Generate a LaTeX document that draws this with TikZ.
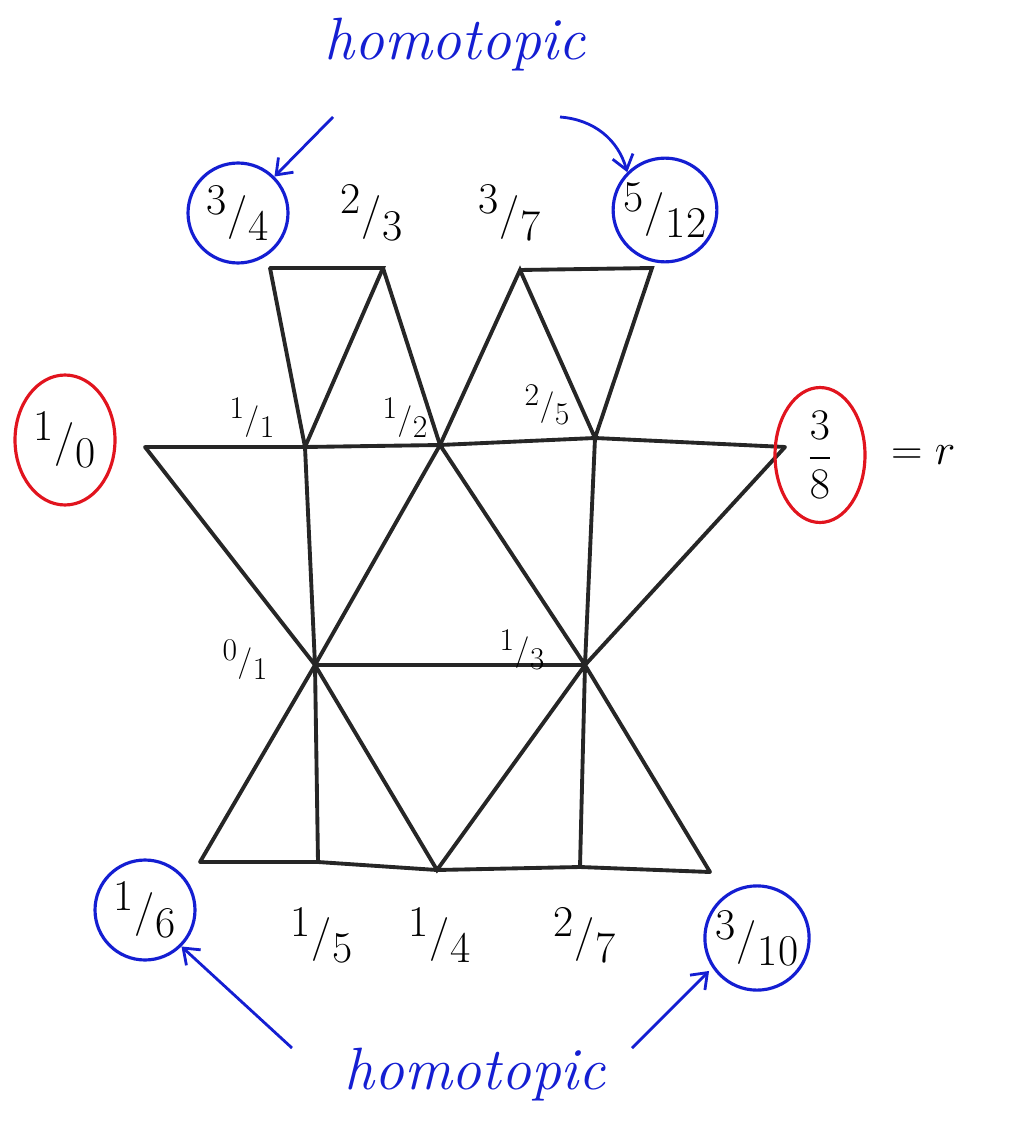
\documentclass[tikz,border=0pt]{standalone}
\usepackage{amsmath}
\usepackage{xcolor}
\usepackage{tikz}
\usetikzlibrary{positioning,arrows.meta,shapes.geometric}

\definecolor{penblue}{RGB}{20,30,210}
\definecolor{penred}{RGB}{225,20,30}
\newcommand{\slfr}[2]{\raisebox{.32em}{#1}\kern.02em/\kern.02em\raisebox{-.28em}{#2}}

\begin{document}
\begin{tikzpicture}[x=0.02cm, y=-0.02cm,
edge/.style={line width=2.2pt, black!85, line cap=round},
lab/.style={font=\fontsize{25}{28}\selectfont, inner sep=1pt},
small/.style={font=\fontsize{18}{20}\selectfont, inner sep=1pt},
ring/.style={lab, draw=penblue, line width=1.8pt, circle, minimum size=2cm},
redring/.style={lab, draw=penred, line width=1.8pt, ellipse},
word/.style={text=penblue, font=\fontsize{34}{38}\selectfont\itshape},
note/.style={-{Straight Barb[length=8pt,width=12pt]}, penblue, line width=1.6pt}
]
\useasboundingbox (0,0) rectangle (1018,1128);

% vertices of the Farey graph piece
\coordinate (a34) at (270,268);
\coordinate (a23) at (383,268);
\coordinate (a37) at (520,270);
\coordinate (a512) at (652,268);
\coordinate (a10) at (145,447);
\coordinate (a11) at (305,447);
\coordinate (a12) at (440,445);
\coordinate (a25) at (595,438);
\coordinate (a38) at (785,447);
\coordinate (a01) at (315,665);
\coordinate (a13) at (585,665);
\coordinate (a16) at (200,862);
\coordinate (a15) at (318,862);
\coordinate (a14) at (437,870);
\coordinate (a27) at (580,867);
\coordinate (a310) at (710,872);

% edges
\draw[edge] (a34) -- (a23) -- (a11) -- (a34);
\draw[edge] (a23) -- (a12);
\draw[edge] (a37) -- (a512) -- (a25) -- (a37) -- (a12);
\draw[edge] (a10) -- (a11) -- (a12) -- (a25) -- (a38);
\draw[edge] (a10) -- (a01) -- (a11);
\draw[edge] (a01) -- (a12) -- (a13) -- (a25);
\draw[edge] (a38) -- (a13) -- (a01);
\draw[edge] (a16) -- (a15) -- (a14) -- (a27) -- (a310);
\draw[edge] (a16) -- (a01) -- (a15);
\draw[edge] (a01) -- (a14) -- (a13) -- (a27);
\draw[edge] (a13) -- (a310);

% labels
\node[ring] (n34) at (238,213) {\slfr{3}{4}};
\node[lab] (n23) at (372,213) {\slfr{2}{3}};
\node[lab] (n37) at (510,213) {\slfr{3}{7}};
\node[ring] (n512) at (665,210) {\slfr{5}{12}};
\node[redring, minimum width=2cm, minimum height=2.6cm] (n10) at (65,440) {\slfr{1}{0}};
\node[small] (n11) at (252,418) {\slfr{1}{1}};
\node[small] (n12) at (405,418) {\slfr{1}{2}};
\node[small] (n25) at (547,405) {\slfr{2}{5}};
\node[redring, minimum width=1.8cm, minimum height=2.7cm, font=\fontsize{28}{32}\selectfont]
  (n38) at (820,455) {$\displaystyle\frac{3}{8}$};
\node[lab, font=\fontsize{30}{34}\selectfont, right=0.45cm of n38] (eqr) {$=r$};
\node[small] (n01) at (245,660) {\slfr{0}{1}};
\node[small] (n13) at (522,650) {\slfr{1}{3}};
\node[ring] (n16) at (145,910) {\slfr{1}{6}};
\node[lab] (n15) at (322,935) {\slfr{1}{5}};
\node[lab] (n14) at (440,935) {\slfr{1}{4}};
\node[lab] (n27) at (585,935) {\slfr{2}{7}};
\node[ring] (n310) at (757,938) {\slfr{3}{10}};

% homotopic remarks
\node[word] (top) at (455,45) {homotopic};
\node[word] (bot) at (475,1075) {homotopic};

\coordinate (t1) at (333,117);
\coordinate (t2) at (560,117);
\coordinate (b1) at (292,1048);
\coordinate (b2) at (632,1048);
\draw[note] (t1) -- (n34.north east);
\draw[note] (t2) to[bend left=35] (n512.north west);
\draw[note] (b1) -- (n16.south east);
\draw[note] (b2) -- ([shift={(-10,-5)}]n310.south west);
\end{tikzpicture}
\end{document}
